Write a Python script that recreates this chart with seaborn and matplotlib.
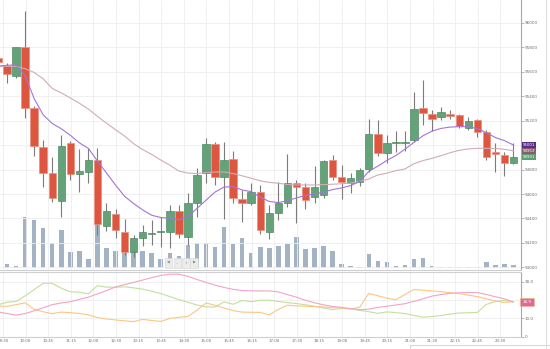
import numpy as np
import matplotlib
matplotlib.use("Agg")
import matplotlib.pyplot as plt
from matplotlib.lines import Line2D
import seaborn as sns

# 15-minute candles
opens = [95713, 95648, 95568, 95801, 95302, 94987, 94774, 94545, 95015, 94761,
         94783, 94878, 94338, 94436, 94287, 94123, 94242, 94274, 94287, 94287,
         94461, 94250, 94529, 94774, 95007, 94742, 94884, 94557, 94524, 94614,
         94291, 94447, 94524, 94693, 94655, 94573, 94592, 94878, 94742, 94688,
         94701, 94802, 95089, 94938, 95021, 95021, 95042, 95306, 95252, 95228,
         95255, 95247, 95143, 95206, 95110, 94946, 94919, 94851]
closes = [95681, 95582, 95801, 95302, 94993, 94769, 94570, 94993, 94764, 94788,
          94878, 94352, 94461, 94305, 94123, 94242, 94287, 94278, 94300, 94461,
          94273, 94529, 94756, 95007, 94742, 94878, 94570, 94524, 94614, 94305,
          94447, 94529, 94688, 94660, 94551, 94655, 94870, 94742, 94696, 94729,
          94797, 95089, 94938, 95015, 95026, 95026, 95296, 95261, 95212, 95274,
          95241, 95157, 95198, 95110, 94905, 94925, 94851, 94901]
highs = [95722, 95672, 95801, 96100, 95320, 95042, 94903, 95083, 95034, 94968,
         94977, 94977, 94529, 94477, 94395, 94264, 94346, 94387, 94412, 94510,
         94510, 94608, 94813, 95058, 95028, 95028, 94954, 94633, 94688, 94674,
         94510, 94696, 94927, 94715, 94688, 94829, 94878, 94919, 94837, 94772,
         94813, 95214, 95206, 95083, 95116, 95116, 95437, 95533, 95288, 95315,
         95288, 95255, 95233, 95214, 95124, 95018, 94946, 95015]
lows = [95672, 95509, 95552, 95222, 94911, 94660, 94537, 94409, 94715, 94619,
        94688, 94264, 94300, 94237, 94101, 94084, 94174, 94183, 94169, 94158,
        94240, 94183, 94409, 94688, 94674, 94393, 94524, 94368, 94510, 94270,
        94229, 94387, 94491, 94360, 94475, 94524, 94567, 94715, 94557, 94606,
        94668, 94780, 94911, 94856, 94946, 94954, 95026, 95165, 95116, 95206,
        95212, 95138, 95124, 95069, 94878, 94783, 94747, 94843]
volumes = [30, 40, 23, 510, 483, 406, 250, 383, 160, 173,
           96, 480, 200, 173, 150, 166, 173, 150, 93, 150,
           126, 236, 256, 256, 216, 410, 240, 306, 150, 210,
           200, 223, 243, 310, 190, 206, 223, 176, 43, 23,
           16, 143, 73, 60, 26, 33, 93, 106, 26, 16,
           10, 10, 16, 16, 60, 33, 43, 33]

# moving averages
ma_fast = [95645, 95654, 95656, 95570, 95382, 95248, 95177, 95134, 95081, 95019,
           94973, 94870, 94772, 94673, 94581, 94522, 94470, 94426, 94408, 94401,
           94390, 94416, 94481, 94549, 94616, 94657, 94660, 94633, 94619, 94574,
           94539, 94530, 94545, 94568, 94589, 94600, 94616, 94636, 94650, 94669,
           94702, 94785, 94828, 94875, 94915, 94967, 95023, 95077, 95115, 95137,
           95148, 95151, 95151, 95135, 95103, 95062, 95037, 95001]
ma_slow = [95648, 95646, 95645, 95626, 95595, 95543, 95464, 95428, 95386, 95343,
           95295, 95236, 95179, 95126, 95074, 95012, 94964, 94924, 94878, 94836,
           94788, 94772, 94768, 94775, 94780, 94781, 94767, 94749, 94729, 94708,
           94695, 94688, 94678, 94674, 94674, 94674, 94677, 94680, 94684, 94689,
           94704, 94723, 94756, 94771, 94791, 94805, 94848, 94874, 94892, 94914,
           94938, 94958, 94969, 94974, 94974, 94973, 94966, 94953]

# directional movement indicator
adx = [13.5, 12.6, 11.8, 12.6, 14.1, 15.8, 17.5, 18.4, 19.1, 20.4,
       21.6, 23.4, 25.2, 27.2, 28.5, 29.7, 31.0, 32.3, 33.5, 34.2,
       34.2, 33.0, 31.3, 29.7, 28.2, 26.9, 25.9, 25.2, 25.1, 25.0,
       25.0, 24.5, 23.0, 21.6, 19.9, 18.5, 17.4, 16.5, 16.0, 15.3,
       14.7, 15.0, 16.0, 16.6, 17.3, 18.0, 19.3, 20.7, 22.2, 23.0,
       23.7, 24.0, 24.2, 24.1, 23.1, 21.8, 20.7, 18.9]
di_plus = [17.4, 18.8, 19.2, 22.3, 25.7, 29.2, 29.2, 26.5, 24.5, 24.3,
           23.4, 27.9, 27.1, 27.0, 27.3, 26.7, 26.0, 24.9, 23.6, 21.9,
           20.2, 18.8, 17.3, 16.3, 16.1, 19.0, 17.7, 19.8, 19.1, 19.9,
           19.9, 19.2, 18.6, 18.1, 17.4, 16.6, 15.7, 14.7, 15.4, 15.3,
           14.3, 13.6, 12.7, 13.5, 13.1, 12.6, 11.5, 10.6, 11.0, 11.5,
           12.3, 12.9, 13.0, 13.2, 17.6, 19.2, 19.8, 19.0]
di_minus = [16.8, 16.5, 17.5, 18.5, 14.9, 13.6, 12.5, 13.4, 13.1, 12.6,
            11.9, 10.4, 9.6, 9.1, 8.6, 8.2, 9.4, 8.8, 8.3, 9.9,
            10.5, 11.0, 14.4, 18.4, 17.1, 15.6, 14.2, 13.4, 13.3, 13.2,
            11.9, 14.9, 17.2, 16.8, 16.6, 16.4, 16.2, 15.8, 15.7, 15.0,
            16.1, 23.6, 22.4, 21.0, 20.2, 23.0, 25.8, 25.4, 25.0, 24.6,
            24.0, 23.5, 22.7, 21.9, 20.7, 19.5, 18.7, 19.1]

time_labels = ["09:30", "10:00", "10:45", "11:15", "12:00", "12:30", "13:15",
               "13:45", "14:30", "15:00", "15:45", "16:15", "17:00", "17:30",
               "18:15", "19:00", "19:45", "20:15", "21:00", "21:30", "22:15",
               "22:45", "23:30"]

sns.set_theme(style="white")
plt.rcParams["font.family"] = ["DejaVu Sans"]

UP, DOWN = "#64a37a", "#dd5740"
UP_EDGE, DOWN_EDGE = "#4f8c63", "#e9907f"
WICK = "#7c7c7c"
GRID = "#eeeeee"
TICK_TXT = "#6f6f6f"

o, c, h, l = map(np.array, (opens, closes, highs, lows))
idx = np.arange(len(c))

W, H = 550.0, 349.0
fig = plt.figure(figsize=(W / 100, H / 100), dpi=100)
fig.patch.set_facecolor("white")


def rect(x0, y0, x1, y1):
    return [x0 / W, 1 - y1 / H, (x1 - x0) / W, (y1 - y0) / H]


xlim = (0.226, 57.83)
xticks = 0.55 + 2.5 * np.arange(len(time_labels))

# volume layer underneath the price panel
axv = fig.add_axes(rect(0, 0, 521, 270), label="volume")
sns.barplot(x=idx, y=volumes, ax=axv, color="#a3b3c3", saturation=1,
            width=0.5, native_scale=True, linewidth=0)
axv.set_xlim(*xlim)
axv.set_ylim(-17, 2683)
axv.set_axis_off()
axv.set_zorder(0)

# price panel
ax = fig.add_axes(rect(0, 0, 521, 270), label="price")
ax.set_zorder(1)
ax.patch.set_alpha(0)
ax.set_xlim(*xlim)
ax.set_ylim(93978, 96188)

ax.vlines(idx, l, h, color=WICK, lw=0.8, zorder=2)
up = c >= o
body_bottom = np.minimum(o, c)
body_height = np.maximum(np.abs(c - o), 7)
ax.bar(idx, body_height, bottom=body_bottom, width=0.82,
       color=np.where(up, UP, DOWN), edgecolor=np.where(up, UP_EDGE, DOWN_EDGE),
       linewidth=0.5, zorder=3)

sns.lineplot(x=idx, y=ma_slow, ax=ax, color="#cfadb4", lw=0.8, zorder=4, legend=False)
sns.lineplot(x=idx, y=ma_fast, ax=ax, color="#a474d6", lw=0.8, zorder=5, legend=False)

price_ticks = np.arange(94000, 96001, 200)
ax.set_yticks(price_ticks)
# the 95000 level sits under the last-value tags
ax.set_yticklabels(["" if t == 95000 else str(t) for t in price_ticks])
ax.yaxis.tick_right()
ax.set_xticks(xticks)
ax.set_xticklabels([])
ax.tick_params(axis="y", labelsize=3, length=2, width=0.5, pad=0.8,
               colors="#999999", labelcolor=TICK_TXT, right=True)
ax.tick_params(axis="x", length=0)
ax.grid(True, color=GRID, lw=0.6)
ax.set_xlabel("")
ax.set_ylabel("")
for side in ("top", "left"):
    ax.spines[side].set_visible(False)
ax.spines["right"].set_color("#a8a8a8")
ax.spines["right"].set_linewidth(0.8)
ax.spines["bottom"].set_color("#cfcfcf")
ax.spines["bottom"].set_linewidth(0.8)

# last-value tags on the price axis
ytr = ax.get_yaxis_transform()
for val, col in ((ma_fast[-1], "#5c2c8c"), (ma_slow[-1], "#8a5c6c"),
                 (closes[-1], "#5e9e76")):
    ax.text(1.003, val, f"{val:.0f}", transform=ytr, ha="left", va="center",
            fontsize=2.8, color="white", clip_on=False, zorder=10,
            bbox=dict(boxstyle="square,pad=0.22", fc=col, ec="none"))

# indicator panel
ax2 = fig.add_axes(rect(0, 272, 521, 336.5))
sns.lineplot(x=idx, y=di_plus, ax=ax2, color="#c3df9c", lw=0.8, legend=False)
sns.lineplot(x=idx, y=di_minus, ax=ax2, color="#fcc782", lw=0.8, legend=False)
sns.lineplot(x=idx, y=adx, ax=ax2, color="#f4a3c6", lw=0.8, legend=False)
ax2.set_xlim(*xlim)
ax2.set_ylim(0, 35.4)
ax2.set_yticks([0, 10, 20, 30])
# the 20.0 level sits under the last-value tag
ax2.set_yticklabels(["0", "10.0", "", "30.0"])
ax2.yaxis.tick_right()
ax2.set_xticks(xticks)
ax2.set_xticklabels(time_labels)
ax2.tick_params(axis="y", labelsize=3, length=2, width=0.5, pad=0.8,
                colors="#999999", labelcolor=TICK_TXT, right=True)
ax2.tick_params(axis="x", labelsize=2.8, length=0, pad=1.5, labelcolor=TICK_TXT)
ax2.grid(True, color=GRID, lw=0.6)
ax2.set_xlabel("")
ax2.set_ylabel("")
ax2.spines["left"].set_visible(False)
ax2.spines["right"].set_color("#a8a8a8")
ax2.spines["right"].set_linewidth(0.8)
for side in ("top", "bottom"):
    ax2.spines[side].set_color("#cfcfcf")
    ax2.spines[side].set_linewidth(0.8)

ytr2 = ax2.get_yaxis_transform()
ax2.text(1.003, adx[-1], f"{adx[-1]:.1f}", transform=ytr2, ha="left", va="center",
         fontsize=3, color="white", clip_on=False, zorder=10,
         bbox=dict(boxstyle="square,pad=0.55", fc="#e8649e", ec="#d8c27a", lw=0.4))

# zoom / scroll buttons
for k, sym in enumerate(["\u25c0", "\u2013", "+", "\u25b6"]):
    fig.text((168.5 + 8.6 * k) / W, 1 - 263 / H, sym, fontsize=2.6, ha="center",
             va="center", color="#8a8a8a", zorder=20,
             bbox=dict(boxstyle="square,pad=0.7", fc="#ececec", ec="#d6d6d6", lw=0.4))

# side panel border and box outline
fig.add_artist(Line2D([545.5 / W, 545.5 / W], [0, 1], color="#dddddd", lw=0.8))
fig.add_artist(Line2D([410 / W, 1], [1 - 345 / H, 1 - 345 / H], color="#d8d8d8", lw=0.8))
fig.add_artist(Line2D([410 / W, 410 / W], [0, 1 - 345 / H], color="#d8d8d8", lw=0.8))

fig.savefig("out.png", dpi=100, facecolor="white")
